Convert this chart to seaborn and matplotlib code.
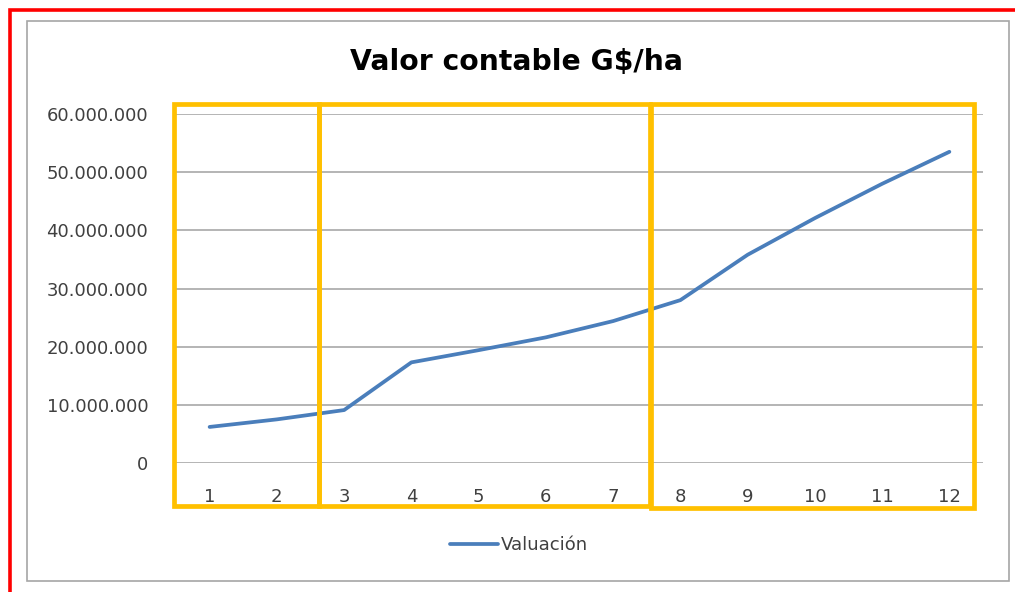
import matplotlib
matplotlib.use("Agg")
import matplotlib.pyplot as plt
from matplotlib.patches import Rectangle
from matplotlib.ticker import FuncFormatter, FixedLocator
from matplotlib.lines import Line2D
import seaborn as sns
import pandas as pd

# ---- data ----
periods = [1, 2, 3, 4, 5, 6, 7, 8, 9, 10, 11, 12]
valuacion = [6.2e6, 7.5e6, 9.1e6, 17.3e6, 19.4e6, 21.6e6, 24.4e6, 28.0e6, 35.8e6, 42.1e6, 48.0e6, 53.5e6]
y_ticks = [0, 10e6, 20e6, 30e6, 40e6, 50e6, 60e6]
title = "Valor contable G$/ha"
series_name = "Valuación"

# highlight boxes (figure pixel coords: left, top, right, bottom)
boxes_px = [(174, 104, 319, 506), (319, 104, 650, 506), (651, 104, 974, 508)]

W, H = 1015, 592
sns.set_theme(style="white")
plt.rcParams["font.family"] = ["DejaVu Sans"]

fig = plt.figure(figsize=(W / 100, H / 100), dpi=100)
fig.patch.set_facecolor("white")

def fx(px):
    return px / W

def fy(py):
    return 1 - py / H

ax_l, ax_r, ax_t, ax_b = 176, 983, 114, 463
ax = fig.add_axes([fx(ax_l), fy(ax_b), fx(ax_r - ax_l), (ax_b - ax_t) / H])

df = pd.DataFrame({"periodo": periods, "valor": valuacion, "serie": series_name})
sns.lineplot(data=df, x="periodo", y="valor", hue="serie", palette=["#4A7EBB"],
             linewidth=2.7, ax=ax, legend=False)

ax.set_xlim(0.5, 12.5)
ax.set_ylim(0, 60e6)
ax.yaxis.set_major_locator(FixedLocator(y_ticks))
ax.xaxis.set_major_locator(FixedLocator(periods))
ax.yaxis.set_major_formatter(FuncFormatter(lambda v, p: f"{int(round(v)):,}".replace(",", ".")))
ax.set_xlabel("")
ax.set_ylabel("")
for s in ax.spines.values():
    s.set_visible(False)
ax.grid(axis="y", color="#A0A0A0", linewidth=1.1)
ax.grid(axis="x", visible=False)
ax.set_axisbelow(True)
ax.tick_params(axis="y", length=0, pad=20, labelsize=13, labelcolor="#404040")
ax.tick_params(axis="x", length=0, pad=18, labelsize=13, labelcolor="#404040")

# title
fig.text(fx(516), fy(62), title, ha="center", va="center", fontsize=20.3,
         fontweight="bold", family=["DejaVu Sans"], color="#000000")

# legend
handle = Line2D([], [], color="#4A7EBB", linewidth=2.7)
fig.legend([handle], [series_name], loc="center", bbox_to_anchor=(fx(519), fy(545)),
           frameon=False, fontsize=13, handlelength=2.7, handletextpad=0.15,
           labelcolor="#404040")

# chart border (gray)
fig.patches.append(Rectangle((fx(27), fy(581)), fx(1009 - 27), (581 - 21) / H,
                             transform=fig.transFigure, fill=False,
                             edgecolor="#A6A6A6", linewidth=1.2))
# red frame
fig.patches.append(Rectangle((fx(9.5), fy(700)), fx(1200), (700 - 9.5) / H,
                             transform=fig.transFigure, fill=False,
                             edgecolor="#FF0000", linewidth=2.6))
# yellow highlight boxes
for (l, t, r, b) in boxes_px:
    fig.patches.append(Rectangle((fx(l), fy(b)), fx(r - l), (b - t) / H,
                                 transform=fig.transFigure, fill=False,
                                 edgecolor="#FFC000", linewidth=3.4, zorder=5))

fig.savefig("out.png", dpi=100)
